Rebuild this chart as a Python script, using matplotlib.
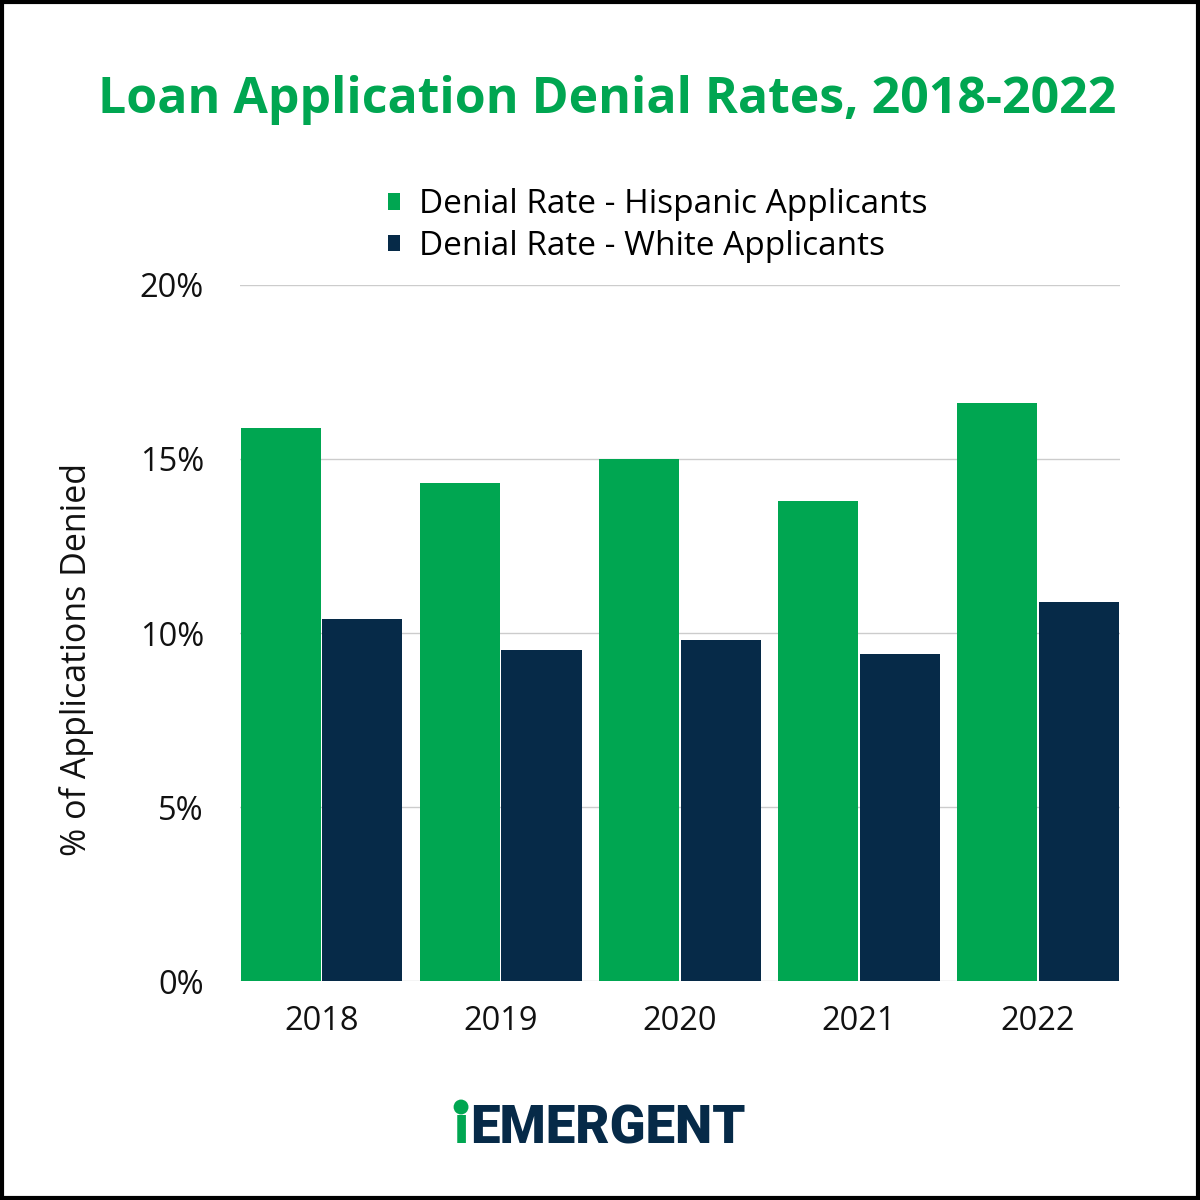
import matplotlib.pyplot as plt
import numpy as np
from matplotlib.patches import Rectangle, Circle

plt.rcParams['font.family'] = ['Open Sans', 'DejaVu Sans']

# ---------------------------
# data
# ---------------------------
years = ['2018', '2019', '2020', '2021', '2022']
hispanic = [15.9, 14.3, 15.0, 13.8, 16.6]
white = [10.4, 9.5, 9.8, 9.4, 10.9]
y_ticks = [0, 5, 10, 15, 20]

green = '#00A651'
navy = '#062A48'

fig = plt.figure(figsize=(12, 12), dpi=100)
ax = fig.add_axes([0.2, 0.1825, 0.7333, 0.58])

x = np.arange(len(years))
w = 0.448
gap = 0.008

ax.bar(x - w / 2 - gap / 2, hispanic, w, color=green, zorder=3,
       label='Denial Rate - Hispanic Applicants')
ax.bar(x + w / 2 + gap / 2, white, w, color=navy, zorder=3,
       label='Denial Rate - White Applicants')

ax.set_xlim(-0.455, 4.457)
ax.set_ylim(0, 20)
ax.set_yticks(y_ticks)
ax.set_yticklabels([f'{t}%' for t in y_ticks])
ax.set_xticks(x)
ax.set_xticklabels(years)
ax.tick_params(axis='both', length=0, labelsize=23.5, colors='#111111')
ax.tick_params(axis='y', pad=26)
ax.tick_params(axis='x', pad=17)
ax.yaxis.grid(True, color='#cccccc', linewidth=1)
ax.set_axisbelow(True)
for s in ax.spines.values():
    s.set_visible(False)

fig.text(0.064, 0.45, '% of Applications Denied', rotation=90,
         ha='center', va='center', fontsize=24.5, color='#111111')

# legend
fig.legend(loc='center left', bbox_to_anchor=(0.298, 0.812), frameon=False,
           fontsize=24, handlelength=0.38, handleheight=0.38, handletextpad=0.55,
           labelspacing=0.25)

fig.text(0.506, 0.917, 'Loan Application Denial Rates, 2018-2022',
         ha='center', va='center', fontsize=36, fontweight='bold', color=green)

# logo
logo_font = ['Roboto', 'DejaVu Sans']
fig.text(0.392, 0.0475, 'EMERGENT', ha='left', va='baseline', fontsize=38,
         fontweight=900, color=navy, family=logo_font)
fig.text(0.3842, 0.0475, 'ı', ha='center', va='baseline', fontsize=38,
         fontweight=900, color=green, family=logo_font)
fig.patches.append(Circle((0.3842, 0.0775), 0.0062, transform=fig.transFigure,
                          fc=green, ec='none', figure=fig))

# outer border
fig.patches.append(Rectangle((0.0015, 0.0015), 0.997, 0.997, transform=fig.transFigure,
                             fill=False, ec='black', lw=3, figure=fig))

fig.savefig('out.png', dpi=100)
